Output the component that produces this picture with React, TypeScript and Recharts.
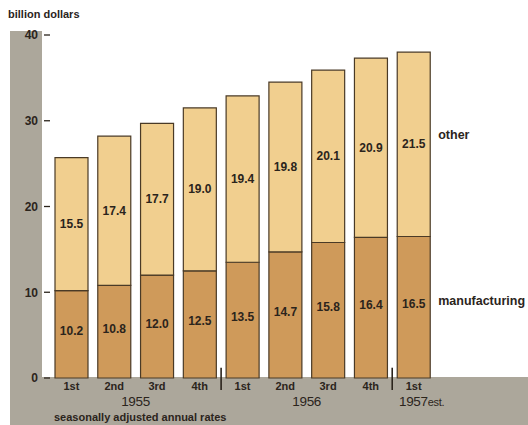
import React from 'react';
import { BarChart, Bar, XAxis, YAxis, LabelList, ReferenceLine, Label } from 'recharts';

const quarters = ['1st', '2nd', '3rd', '4th', '1st', '2nd', '3rd', '4th', '1st'];
const manufacturing = [10.2, 10.8, 12.0, 12.5, 13.5, 14.7, 15.8, 16.4, 16.5];
const other = [15.5, 17.4, 17.7, 19.0, 19.4, 19.8, 20.1, 20.9, 21.5];
const yTicks = [0, 10, 20, 30, 40];
// year label shown under the given quarter index; 'mid' = centred on the gap after that bar
const yearLabelAt = ['', '1955', '', '', '', '1956', '', '', '1957'];
const yearSuffixAt = ['', '', '', '', '', '', '', '', 'est.'];
const yearMidAt = [false, true, false, false, false, true, false, false, false];
const separators = [4, 8];

const data = quarters.map((q, i) => ({ id: i, quarter: q, manufacturing: manufacturing[i], other: other[i] }));

const FONT = '"Liberation Sans", Arial, sans-serif';
const INK = '#2b241c';
const GRAY = '#aca79b';
const MFG = '#cf9a5a';
const OTH = '#f1cf8f';
const STROKE = '#4a3a26';

const makeLabel = (name: string, nameDy: number, valDy: number) => (props: any) => {
  const { x, y, width, height, value, index } = props;
  const cx = Number(x) + Number(width) / 2;
  const cy = Number(y) + Number(height) / 2;
  return (
    <g>
      <text x={cx} y={cy + valDy} textAnchor="middle" dominantBaseline="central" fill={INK}
        style={{ fontFamily: FONT, fontSize: 12, fontWeight: 700 }}>
        {Number(value).toFixed(1)}
      </text>
      {index === data.length - 1 && (
        <text x={Number(x) + Number(width) + 8} y={cy + nameDy} textAnchor="start" dominantBaseline="central" fill={INK}
          style={{ fontFamily: FONT, fontSize: 12.5, fontWeight: 700 }}>
          {name}
        </text>
      )}
    </g>
  );
};

const YearTick = (props: any) => {
  const { x, y, payload } = props;
  const i = Number(payload.value);
  const label = yearLabelAt[i];
  if (!label) return <g />;
  const half = typeof payload.offset === 'number' && payload.offset > 0 ? payload.offset : 21.4;
  const px = yearMidAt[i] ? Number(x) + half : Number(x) + 8;
  return (
    <text x={px} y={y} dy="0.71em" textAnchor="middle" fill={INK}
      style={{ fontFamily: FONT, fontSize: 13.5, letterSpacing: -0.3 }}>
      {label}
      {yearSuffixAt[i] ? <tspan style={{ fontSize: 11 }}>{yearSuffixAt[i]}</tspan> : null}
    </text>
  );
};

export default function App() {
  return (
    <div style={{ position: 'absolute', left: 0, top: 0, width: 528, height: 425, background: '#fff', overflow: 'hidden' }}>
      <div style={{ position: 'absolute', left: 10, top: 31, width: 32, height: 350, background: GRAY }} />
      <div style={{ position: 'absolute', left: 10, top: 377, width: 518, height: 48, background: GRAY }} />
      <div style={{ position: 'absolute', left: 8, top: 8, fontFamily: FONT, fontSize: 11, fontWeight: 700, color: INK }}>
        billion dollars
      </div>
      <BarChart width={528} height={425} data={data} margin={{ top: 35, right: 93, bottom: 0, left: 0 }}>
        <YAxis
          domain={[0, 40]}
          ticks={yTicks}
          width={50}
          axisLine={false}
          tickLine={{ stroke: INK, strokeWidth: 1.3 }}
          tickSize={6}
          tickMargin={6}
          interval={0}
          tick={{ fill: INK, fontSize: 12, fontWeight: 700, fontFamily: FONT }}
        />
        <XAxis
          dataKey="id"
          type="category"
          height={14}
          axisLine={false}
          tickLine={false}
          tickSize={0}
          tickMargin={4}
          interval={0}
          tickFormatter={(v: any) => quarters[Number(v)]}
          tick={{ fill: INK, fontSize: 11, fontWeight: 700, fontFamily: FONT }}
        />
        <XAxis
          xAxisId="year"
          dataKey="id"
          type="category"
          height={33}
          axisLine={false}
          tickLine={false}
          tickSize={0}
          tickMargin={4}
          interval={0}
          tick={<YearTick />}
        >
          <Label
            value="seasonally adjusted annual rates"
            position="insideBottomLeft"
            offset={4}
            style={{ fill: INK, fontSize: 11, fontWeight: 700, fontFamily: FONT }}
          />
        </XAxis>
        <Bar dataKey="manufacturing" stackId="a" fill={MFG} stroke={STROKE} strokeWidth={1.2} barSize={33} isAnimationActive={false}>
          <LabelList dataKey="manufacturing" content={makeLabel('manufacturing', -6, -3)} />
        </Bar>
        <Bar dataKey="other" stackId="a" fill={OTH} stroke={STROKE} strokeWidth={1.2} barSize={33} isAnimationActive={false}>
          <LabelList dataKey="other" content={makeLabel('other', -9, 0)} />
        </Bar>
        {separators.map((s) => (
          <ReferenceLine
            key={s}
            position="start"
            segment={[{ x: s, y: -1.4 }, { x: s, y: 1.2 }]}
            stroke={INK}
            strokeWidth={1.6}
            ifOverflow="visible"
          />
        ))}
      </BarChart>
    </div>
  );
}
